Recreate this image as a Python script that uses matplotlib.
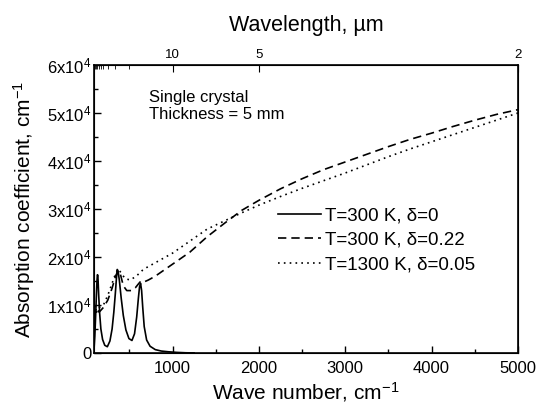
import numpy as np
import matplotlib
matplotlib.use('Agg')
import matplotlib.pyplot as plt
from matplotlib.ticker import FixedLocator, FuncFormatter

plt.rcParams['font.family'] = ['Liberation Sans', 'DejaVu Sans']
plt.rcParams['mathtext.fontset'] = 'custom'
plt.rcParams['mathtext.rm'] = 'Liberation Sans'
plt.rcParams['mathtext.it'] = 'Liberation Sans:italic'

# absorption in units of 1e4 cm^-1
# T=300 K, delta=0
wn_solid = [90, 100, 110, 118, 125, 130, 134, 138, 145, 155, 170, 190, 215, 245, 275,
            300, 320, 338, 350, 360, 370, 385, 405, 430, 460, 495, 530, 560, 585, 605,
            618, 630, 642, 655, 672, 700, 740, 800, 870, 950, 1050, 1150, 1250]
a_solid = [0.05, 0.35, 0.8, 1.2, 1.5, 1.63, 1.62, 1.5, 1.2, 0.85, 0.5, 0.28, 0.16,
           0.13, 0.25, 0.5, 0.85, 1.25, 1.55, 1.74, 1.7, 1.5, 1.15, 0.78, 0.48, 0.3,
           0.26, 0.4, 0.75, 1.15, 1.38, 1.45, 1.3, 0.95, 0.55, 0.27, 0.14, 0.07, 0.04,
           0.025, 0.012, 0.004, 0.0]

# T=300 K, delta=0.22
wn_dash = [90, 120, 150, 200, 250, 300, 340, 370, 395, 430, 470, 520, 570, 610, 635,
           670, 720, 800, 1000, 1200, 1400, 1600, 1800, 2000, 2250, 2500, 2750, 3000,
           3250, 3500, 3750, 4000, 4250, 4500, 4750, 5000]
a_dash = [0.75, 0.95, 0.85, 0.95, 1.1, 1.35, 1.6, 1.72, 1.65, 1.4, 1.3, 1.3, 1.36,
          1.45, 1.5, 1.48, 1.52, 1.6, 1.85, 2.1, 2.42, 2.7, 2.97, 3.18, 3.42, 3.63,
          3.82, 3.98, 4.14, 4.3, 4.45, 4.58, 4.72, 4.85, 4.97, 5.07]

# T=1300 K, delta=0.05
wn_dot = [90, 120, 150, 200, 250, 300, 340, 370, 400, 450, 510, 580, 650, 700, 800,
          1000, 1200, 1400, 1600, 1800, 2000, 2250, 2500, 2750, 3000, 3250, 3500, 3750,
          4000, 4250, 4500, 4750, 5000]
a_dot = [1.1, 0.85, 0.95, 1.0, 1.2, 1.45, 1.65, 1.75, 1.68, 1.55, 1.52, 1.6, 1.72,
         1.78, 1.88, 2.08, 2.33, 2.58, 2.75, 2.92, 3.08, 3.26, 3.43, 3.59, 3.75, 3.92,
         4.09, 4.25, 4.4, 4.55, 4.7, 4.85, 5.0]

wl_major = [10, 5, 2]
wl_minor = [100, 90, 80, 70, 60, 50, 40, 30, 20]

fig = plt.figure(figsize=(5.4, 4.09), dpi=100)
ax = fig.add_axes([0.174, 0.137, 0.785, 0.704])

ax.plot(wn_solid, np.array(a_solid) * 1e4, 'k-', lw=1.2, label='T=300 K, δ=0')
ax.plot(wn_dash, np.array(a_dash) * 1e4, 'k', ls=(0, (5, 3)), lw=1.2,
        label='T=300 K, δ=0.22')
ax.plot(wn_dot, np.array(a_dot) * 1e4, 'k', ls=(0, (1, 2.5)), lw=1.2,
        label='T=1300 K, δ=0.05')

ax.set_xlim(90, 5000)
ax.set_ylim(0, 6e4)
ax.set_xticks([1000, 2000, 3000, 4000, 5000])
ax.set_xticks([500, 1500, 2500, 3500, 4500], minor=True)
ax.set_yticks(np.arange(0, 6.1e4, 1e4))
ax.set_yticks(np.arange(0.5e4, 6e4, 1e4), minor=True)
ax.yaxis.set_major_formatter(FuncFormatter(
    lambda v, p: '0' if v == 0 else f'{int(round(v / 1e4))}x10$^{{4}}$'))
ax.tick_params(which='both', direction='in', labelsize=12, top=False, right=False)
ax.tick_params(which='major', length=5, width=1)
ax.tick_params(which='minor', length=3, width=1)
ax.tick_params(axis='x', pad=6)
ax.tick_params(axis='y', pad=2)
for s in ax.spines.values():
    s.set_linewidth(1.2)

ax.set_xlabel('Wave number, cm$^{-1}$', fontsize=15, labelpad=3)
ax.set_ylabel('Absorption coefficient, cm$^{-1}$', fontsize=15, labelpad=7)

ax2 = ax.twiny()
ax2.set_xlim(ax.get_xlim())
ax2.xaxis.set_major_locator(FixedLocator([1e4 / w for w in wl_major]))
ax2.xaxis.set_minor_locator(FixedLocator([1e4 / w for w in wl_minor]))
ax2.set_xticklabels([str(w) for w in wl_major])
ax2.tick_params(which='both', direction='in', labelsize=9.5, pad=3)
ax2.tick_params(which='major', length=5)
ax2.tick_params(which='minor', length=3)
ax2.set_xlabel('Wavelength, µm', fontsize=15.5, labelpad=13)

ax.text(0.13, 0.915, 'Single crystal\nThickness = 5 mm', transform=ax.transAxes,
        fontsize=12, va='top', linespacing=1.2)
ax.legend(loc='upper left', bbox_to_anchor=(0.434, 0.505), frameon=False,
          fontsize=13.5, handlelength=2.3, handletextpad=0.2, labelspacing=0.38,
          borderpad=0, borderaxespad=0)

fig.savefig('out.png', dpi=100)
